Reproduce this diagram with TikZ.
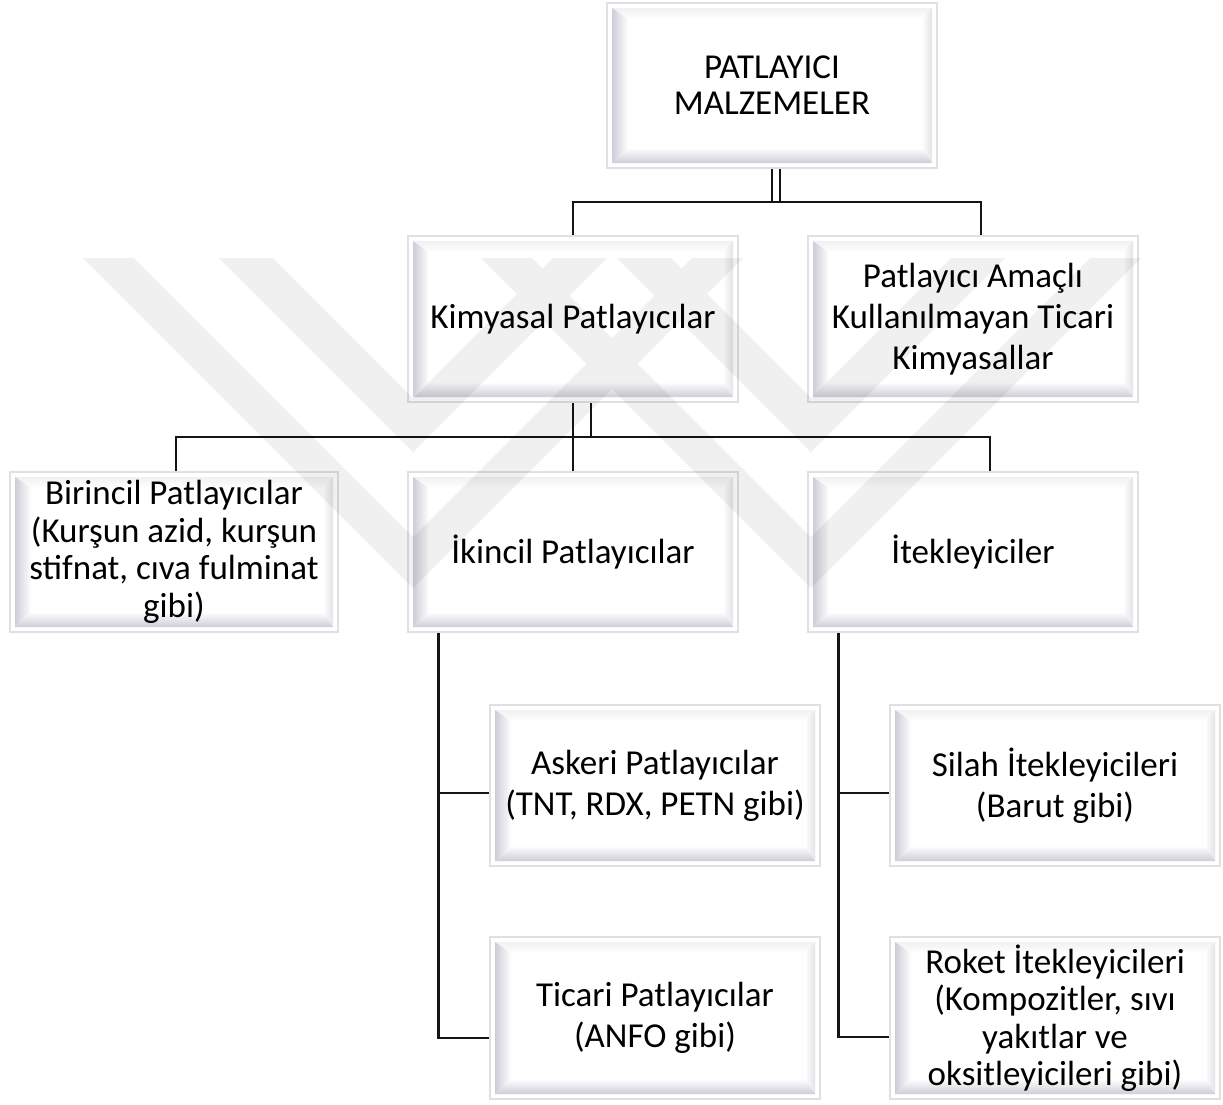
\documentclass[tikz,border=0pt]{standalone}
\usepackage{fontspec}
\setmainfont{Carlito}
\usetikzlibrary{calc}
\definecolor{frame}{HTML}{E0E0E2}
\definecolor{bevdark}{HTML}{CDCDD8}
\definecolor{bevright}{HTML}{E2E2E8}
\definecolor{bevtop}{HTML}{F1F1F3}
\tikzset{
  bevbox/.style={draw=frame, line width=1.6pt, fill=white, inner sep=0pt,
    align=center, text=black, font=\fontsize{35}{41}\selectfont,
    path picture={
      \coordinate (o1) at ([shift={(5pt,5pt)}]path picture bounding box.south west);
      \coordinate (o2) at ([shift={(-5pt,-5pt)}]path picture bounding box.north east);
      \coordinate (i1) at ([shift={(21pt,20pt)}]path picture bounding box.south west);
      \coordinate (i2) at ([shift={(-15pt,-16pt)}]path picture bounding box.north east);
      \fill[white] (o1) rectangle (o2);
      \shade[top color=bevtop, bottom color=white] (o1 |- o2) -- (o2) -- (i2) -- (i1 |- i2) -- cycle;
      \shade[right color=bevright, left color=white] (o2 |- o1) -- (o2) -- (i2) -- (i2 |- i1) -- cycle;
      \shade[left color=bevdark, right color=white] (o1) -- (o1 |- o2) -- (i1 |- i2) -- (i1) -- cycle;
      \shade[bottom color=bevdark, top color=white] (o1) -- (o2 |- o1) -- (i2 |- i1) -- (i1) -- cycle;
    }},
  colbox/.style={bevbox, minimum width=330pt},
  tight/.style={font=\fontsize{35}{37.5}\selectfont},
  conn/.style={draw=black!92, line width=2.6pt},
  wmark/.style={fill=black, opacity=0.06, draw=none}
}
\begin{document}
\begin{tikzpicture}[x=1pt,y=-1pt]
\useasboundingbox (0,0) rectangle (1223,1104);
\fill[white] (0,0) rectangle (1223,1104);

% boxes
\node[colbox, minimum height=165pt, font=\fontsize{35}{36}\selectfont] (top) at (772,85.5) {PATLAYICI\\MALZEMELER};
\node[colbox, minimum height=166pt] (kim) at (573,319) {Kimyasal Patlayıcılar};
\node[colbox, minimum height=166pt] (pam) at (973,319) {Patlayıcı Amaçlı\\Kullanılmayan Ticari\\Kimyasallar};
\node[bevbox, tight, minimum width=328pt, minimum height=160pt] (bir) at (174,552) {Birincil Patlayıcılar\\(Kurşun azid, kurşun\\stifnat, cıva fulminat\\gibi)};
\node[colbox, minimum height=160pt] (iki) at (573,552) {İkincil Patlayıcılar};
\node[colbox, minimum height=160pt] (ite) at (973,552) {İtekleyiciler};
\node[colbox, minimum height=161pt] (ask) at (655,785.5) {Askeri Patlayıcılar\\(TNT, RDX, PETN gibi)};
\node[colbox, minimum height=162pt] (tic) at (655,1018) {Ticari Patlayıcılar\\(ANFO gibi)};
\node[colbox, minimum height=161pt] (sil) at (1055,785.5) {Silah İtekleyicileri\\(Barut gibi)};
\node[colbox, tight, minimum height=162pt] (rok) at (1055,1018) {Roket İtekleyicileri\\(Kompozitler, sıvı\\yakıtlar ve\\oksitleyicileri gibi)};

% connectors: level 1
\coordinate (j1) at (776,202);
\draw[conn] (top.south) -- (top.south |- j1);
\draw[conn] ([xshift=8pt]top.south) -- ([xshift=8pt]top.south |- j1);
\draw[conn] (kim.north) |- (j1) -| ([xshift=8pt]pam.north);

% connectors: level 2
\coordinate (j2) at (573,437);
\draw[conn] (kim.south) -- (iki.north);
\draw[conn] ([xshift=18pt]kim.south) |- (j2);
\draw[conn] ([xshift=2pt]bir.north) |- (j2) -| ([xshift=17pt]ite.north);

% connectors: level 3
\draw[conn] ([xshift=31pt]iki.south west) |- ([yshift=-20pt]tic.west);
\draw[conn] ([yshift=-7.5pt]ask.west) -- ++(-51,0);
\draw[conn] ([xshift=31pt]ite.south west) |- ([yshift=-19pt]rok.west);
\draw[conn] ([yshift=-7.5pt]sil.west) -- ++(-51,0);

% watermark (double chevrons)
\fill[wmark]
  (83,258) -- (413,588) -- (743,258) -- (692,258) -- (413,537) -- (134,258) -- cycle
  (219,258) -- (413,452) -- (607,258) -- (553,258) -- (413,398) -- (273,258) -- cycle
  (481,258) -- (811,588) -- (1141,258) -- (1090,258) -- (811,537) -- (532,258) -- cycle
  (617,258) -- (811,452) -- (1005,258) -- (951,258) -- (811,398) -- (671,258) -- cycle;
\end{tikzpicture}
\end{document}
